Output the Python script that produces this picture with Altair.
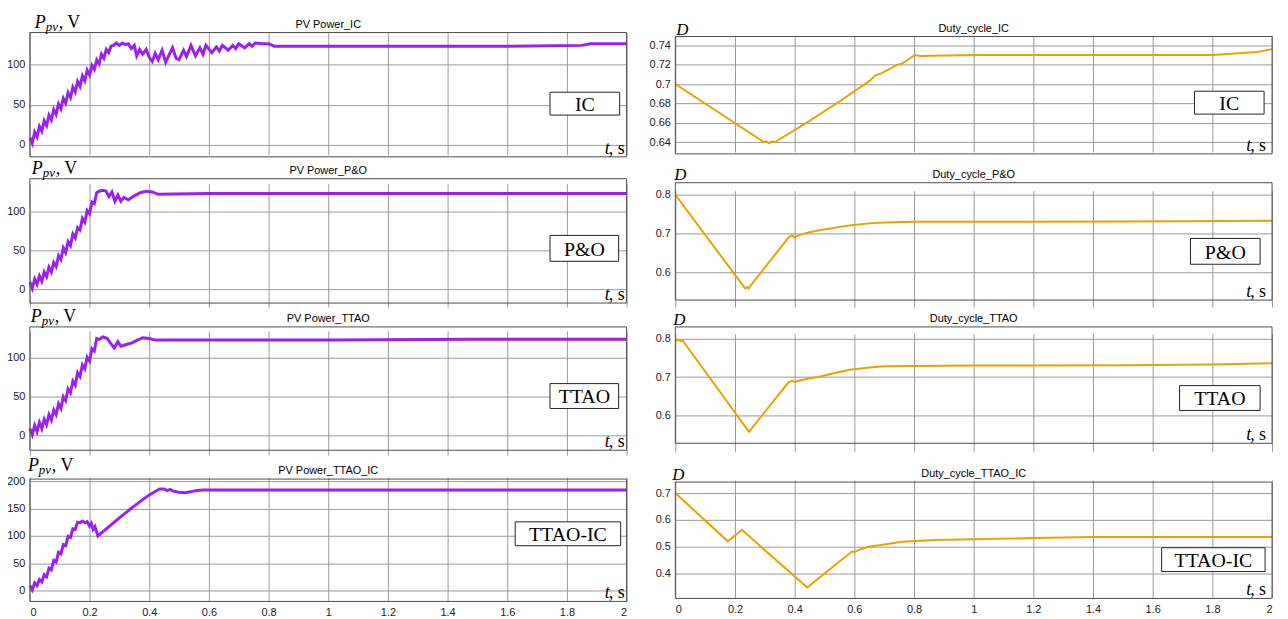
import altair as alt
import pandas as pd

# ---------------- data ----------------
XTICKS = [0, 0.2, 0.4, 0.6, 0.8, 1, 1.2, 1.4, 1.6, 1.8, 2]

# PV Power_IC
t_p_ic = [0, 0.008, 0.016, 0.024, 0.032, 0.04, 0.048, 0.056, 0.064, 0.072, 0.08, 0.088,
          0.096, 0.104, 0.112, 0.12, 0.128, 0.136, 0.144, 0.152, 0.16, 0.168, 0.176, 0.184,
          0.192, 0.2, 0.208, 0.216, 0.224, 0.232, 0.24, 0.248, 0.256, 0.264, 0.272,
          0.28, 0.29, 0.30, 0.31, 0.32, 0.33, 0.34, 0.35, 0.358, 0.368, 0.378, 0.39, 0.40,
          0.41, 0.42, 0.43, 0.443, 0.455, 0.465, 0.478, 0.49, 0.50, 0.515, 0.525, 0.54,
          0.555, 0.57, 0.58, 0.59, 0.61, 0.625, 0.635, 0.645, 0.665, 0.68, 0.69, 0.70,
          0.72, 0.735, 0.745, 0.755, 0.78, 0.80, 0.82, 1.2, 1.6, 1.85, 1.88, 2.0]
p_ic = [9, 2, 16, 10, 23, 17, 30, 24, 37, 31, 44, 38,
        51, 45, 58, 52, 65, 59, 72, 66, 79, 73, 86, 80,
        93, 87, 99, 94, 106, 101, 113, 108, 119, 115, 123,
        124, 127, 124, 127, 125, 126, 120, 124, 111, 119, 113, 119, 109,
        104, 114, 106, 118, 103, 111, 121, 108, 106, 118, 110, 124,
        111, 121, 113, 124, 115, 122, 117, 124, 118, 124, 120, 126,
        121, 126, 123, 127, 126, 126, 123, 123, 123, 124, 126, 126]

# PV Power_P&O
t_p_po = [0, 0.008, 0.016, 0.024, 0.032, 0.04, 0.048, 0.056, 0.064, 0.072, 0.08, 0.088,
          0.096, 0.104, 0.112, 0.12, 0.128, 0.136, 0.144, 0.152, 0.16, 0.168, 0.176, 0.184,
          0.192, 0.2, 0.208, 0.216, 0.224, 0.232,
          0.245, 0.255, 0.265, 0.275, 0.285, 0.295, 0.305, 0.315, 0.33, 0.35, 0.37, 0.39,
          0.41, 0.43, 0.6, 1.0, 1.5, 2.0]
p_po = [9, 1, 13, 6, 17, 10, 22, 16, 28, 22, 34, 29,
        43, 38, 53, 47, 61, 56, 71, 66, 79, 76, 91, 86,
        101, 97, 112, 110, 124, 126,
        127, 126, 119, 125, 113, 121, 113, 118, 115, 120, 124, 126,
        125, 122, 123, 123, 123, 123]

# PV Power_TTAO
t_p_tt = [0, 0.008, 0.016, 0.024, 0.032, 0.04, 0.048, 0.056, 0.064, 0.072, 0.08, 0.088,
          0.096, 0.104, 0.112, 0.12, 0.128, 0.136, 0.144, 0.152, 0.16, 0.168, 0.176, 0.184,
          0.192, 0.2, 0.208, 0.216, 0.224, 0.232,
          0.245, 0.26, 0.27, 0.283, 0.295, 0.305, 0.32, 0.34, 0.36, 0.378, 0.40, 0.42,
          0.6, 1.0, 1.5, 2.0]
p_tt = [9, 1, 13, 5, 17, 9, 21, 14, 27, 20, 33, 27,
        41, 35, 50, 45, 60, 55, 70, 65, 81, 76, 91, 86,
        101, 96, 112, 109, 125, 124,
        127, 125, 119, 113, 121, 115, 117, 119, 123, 126, 125, 123,
        123, 123, 124, 124]

# PV Power_TTAO_IC
t_p_ti = [0, 0.008, 0.016, 0.024, 0.032, 0.04, 0.048, 0.056, 0.064, 0.072, 0.08, 0.088,
          0.096, 0.104, 0.112, 0.12, 0.128, 0.136, 0.144, 0.152, 0.16, 0.168,
          0.176, 0.185, 0.192, 0.2, 0.206, 0.212, 0.218, 0.228, 0.3, 0.35, 0.4, 0.435,
          0.45, 0.46, 0.47, 0.48, 0.5, 0.52, 0.54, 0.56, 0.58, 0.7, 1.0, 1.5, 2.0]
p_ti = [9, 1, 14, 9, 20, 16, 29, 25, 41, 38, 55, 52,
        70, 67, 84, 82, 99, 97, 113, 112, 125, 124,
        127, 124, 126, 118, 123, 112, 117, 100, 133, 155, 175, 186,
        186, 183, 185, 182, 180, 179, 181, 183, 184, 184, 184, 184, 184]

# Duty_cycle_IC
t_d_ic = [0, 0.297, 0.305, 0.315, 0.325, 0.333, 0.45, 0.55, 0.65, 0.67, 0.69, 0.745,
          0.76, 0.803, 0.82, 1.0, 1.5, 1.8, 1.9, 1.95, 2.0]
d_ic = [0.700, 0.640, 0.641, 0.639, 0.641, 0.640, 0.662, 0.682, 0.703, 0.709, 0.711, 0.720,
        0.721, 0.730, 0.729, 0.730, 0.730, 0.730, 0.732, 0.733, 0.736]

# Duty_cycle_P&O
t_d_po = [0, 0.23, 0.235, 0.24, 0.245, 0.38, 0.39, 0.40, 0.42, 0.45, 0.48, 0.52, 0.55,
          0.59, 0.65, 0.70, 0.80, 1.0, 1.5, 2.0]
d_po = [0.800, 0.562, 0.558, 0.562, 0.558, 0.690, 0.695, 0.690, 0.697, 0.703, 0.708, 0.713,
        0.717, 0.721, 0.726, 0.728, 0.730, 0.730, 0.731, 0.733]

# Duty_cycle_TTAO
t_d_tt = [0, 0.01, 0.02, 0.025, 0.247, 0.378, 0.39, 0.40, 0.45, 0.48, 0.52, 0.55, 0.59,
          0.65, 0.70, 0.80, 1.0, 1.5, 1.8, 2.0]
d_tt = [0.795, 0.798, 0.793, 0.795, 0.557, 0.685, 0.690, 0.688, 0.697, 0.700, 0.708, 0.713,
        0.720, 0.725, 0.728, 0.729, 0.730, 0.731, 0.733, 0.736]

# Duty_cycle_TTAO_IC
t_d_ti = [0, 0.176, 0.223, 0.442, 0.592, 0.60, 0.62, 0.648, 0.70, 0.76, 0.87, 1.0, 1.2,
          1.4, 1.6, 2.0]
d_ti = [0.700, 0.520, 0.563, 0.348, 0.482, 0.480, 0.490, 0.500, 0.508, 0.518, 0.525, 0.528,
        0.532, 0.536, 0.536, 0.536]

# ---------------- styling / layout ----------------
W, H = 1249, 572
PURPLE = "#9b1ff5"
ORANGE = "#e8a200"
GRID = "#999999"
FRAME = "#4d4d4d"
SANS = "Liberation Sans"
SERIF = "Liberation Serif"
one = pd.DataFrame({"a": [0]})

panels = [
    # left column
    dict(t=t_p_ic, v=p_ic, color=PURPLE, sw=3, xr=(0, 600), yr=(125, 0), dom=[-15, 140],
         ticks=[0, 50, 100], title="PV Power_IC", box=(523, 593, 60, 83), label="IC",
         lab=("P", 5, -5), show_x=False),
    dict(t=t_p_po, v=p_po, color=PURPLE, sw=3, xr=(0, 600), yr=(272, 147), dom=[-18, 142],
         ticks=[0, 50, 100], title="PV Power_P&O", box=(523, 592, 204, 230), label="P&O",
         lab=("P", 2, 142), show_x=False),
    dict(t=t_p_tt, v=p_tt, color=PURPLE, sw=3, xr=(0, 600), yr=(420, 296), dom=[-19, 140],
         ticks=[0, 50, 100], title="PV Power_TTAO", box=(523, 592, 353, 378), label="TTAO",
         lab=("P", 1, 291), show_x=False),
    dict(t=t_p_ti, v=p_ti, color=PURPLE, sw=3, xr=(0, 600), yr=(572, 449), dom=[-20, 204],
         ticks=[0, 50, 100, 150, 200], title="PV Power_TTAO_IC", box=(488, 594, 492, 516),
         label="TTAO-IC", lab=("P", -2, 441), show_x=True),
    # right column
    dict(t=t_d_ic, v=d_ic, color=ORANGE, sw=2, xr=(649, 1249), yr=(122, 4), dom=[0.628, 0.749],
         ticks=[0.64, 0.66, 0.68, 0.7, 0.72, 0.74], title="Duty_cycle_IC",
         box=(1171, 1241, 59, 82), label="IC", lab=("D", 650, 2), show_x=False),
    dict(t=t_d_po, v=d_po, color=ORANGE, sw=2, xr=(649, 1249), yr=(269, 151), dom=[0.528, 0.831],
         ticks=[0.6, 0.7, 0.8], title="Duty_cycle_P&O",
         box=(1167, 1237, 207, 233), label="P&O", lab=("D", 648, 148), show_x=False),
    dict(t=t_d_tt, v=d_tt, color=ORANGE, sw=2, xr=(649, 1249), yr=(413, 296), dom=[0.527, 0.831],
         ticks=[0.6, 0.7, 0.8], title="Duty_cycle_TTAO",
         box=(1156, 1237, 355, 380), label="TTAO", lab=("D", 647, 294), show_x=False),
    dict(t=t_d_ti, v=d_ti, color=ORANGE, sw=2, xr=(649, 1249), yr=(569, 452), dom=[0.307, 0.741],
         ticks=[0.4, 0.5, 0.6, 0.7], title="Duty_cycle_TTAO_IC",
         box=(1138, 1242, 518, 542), label="TTAO-IC", lab=("D", 646, 450), show_x=True),
]


def txt(text, x, y, size, font=SERIF, italic=False, align="left", baseline="alphabetic",
        color="black"):
    return alt.Chart(one).mark_text(
        text=text, font=font, fontSize=size, fontStyle="italic" if italic else "normal",
        align=align, baseline=baseline, color=color
    ).encode(x=alt.value(x), y=alt.value(y))


def rect(x0, x1, y0, y1, **kw):
    return alt.Chart(one).mark_rect(**kw).encode(
        x=alt.value(x0), x2=alt.value(x1), y=alt.value(y0), y2=alt.value(y1))


def build(p):
    df = pd.DataFrame({"t": p["t"], "v": p["v"]})
    x0, x1 = p["xr"]
    yb, yt = p["yr"]
    xs = alt.Scale(domain=[0, 2], range=[x0, x1], nice=False, zero=False)
    ys = alt.Scale(domain=p["dom"], range=[yb, yt], nice=False, zero=False)
    xaxis = alt.Axis(orient="bottom", values=XTICKS, format="~f", grid=True, gridColor=GRID,
                     gridWidth=1, gridOpacity=1, domain=False, ticks=False,
                     labels=p["show_x"], labelFont=SANS, labelFontSize=11,
                     labelColor="#222222", labelPadding=5, offset=yb - H, title="")
    yaxis = alt.Axis(orient="left", values=p["ticks"], format="~f", grid=True, gridColor=GRID,
                     gridWidth=1, gridOpacity=1, domain=False, ticks=False,
                     labelFont=SANS, labelFontSize=11, labelColor="#222222",
                     labelPadding=5, offset=-x0, title="")
    line = alt.Chart(df).mark_line(color=p["color"], strokeWidth=p["sw"]).encode(
        x=alt.X("t:Q", scale=xs, axis=xaxis),
        y=alt.Y("v:Q", scale=ys, axis=yaxis),
    )
    frame = rect(x0, x1, yt, yb, fillOpacity=0, stroke=FRAME, strokeWidth=1)
    bx0, bx1, by0, by1 = p["box"]
    box = rect(bx0, bx1, by0, by1, fill="white", stroke="#222222", strokeWidth=1)
    boxtext = txt(p["label"], (bx0 + bx1) / 2, (by0 + by1) / 2 + 7.5, 20, align="center")
    center = (x0 + x1) / 2
    title = txt(p["title"], center, yt - 5, 11, font=SANS, align="center")
    right_edge = x1 - 2 if x0 == 0 else x1 - 6
    ts_comma = txt(", s", right_edge, yb - 3, 18, align="right")
    ts_t = txt("t", right_edge - 15, yb - 3, 18, italic=True, align="right")
    kind, lx, ly = p["lab"]
    layers = [line, frame, box, boxtext, title, ts_comma, ts_t]
    if kind == "P":
        layers += [txt("P", lx, ly, 18, italic=True),
                   txt("pv", lx + 11, ly + 3, 13, italic=True),
                   txt(", V", lx + 24, ly, 18)]
    else:
        layers += [txt("D", lx, ly, 17, italic=True)]
    return layers


all_layers = []
for p in panels:
    all_layers += build(p)

chart = alt.layer(*all_layers).resolve_scale(
    x="independent", y="independent"
).properties(
    width=W, height=H,
    autosize=alt.AutoSizeParams(type="none"),
    padding={"left": 22, "top": 23, "right": 8, "bottom": 14},
    background="white",
).configure_view(stroke=None)

chart.save("out.html", embed_options={"renderer": "svg", "actions": False})
